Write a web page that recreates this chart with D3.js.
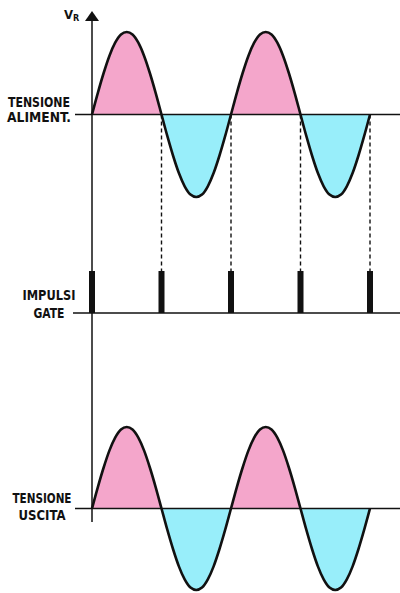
<!DOCTYPE html>
<html><head><meta charset="utf-8">
<script src="https://cdn.jsdelivr.net/npm/d3@7"></script>
<style>
html,body{margin:0;padding:0;background:#fff;}
svg{display:block;}
text{font-family:"Liberation Sans Narrow","DejaVu Sans Condensed","Liberation Sans",Arial,sans-serif;font-weight:bold;fill:#111;}
</style></head>
<body>
<svg id="c" width="400" height="593"></svg>
<script>
// ---- data ----
const phaseDeg = [0,15,30,45,60,75,90,105,120,135,150,165,180,195,210,225,240,255,270,285,300,315,330,345,360,
                  375,390,405,420,435,450,465,480,495,510,525,540,555,570,585,600,615,630,645,660,675,690,705,720];
const supplyVoltage = [0,0.26,0.5,0.71,0.87,0.97,1,0.97,0.87,0.71,0.5,0.26,0,-0.26,-0.5,-0.71,-0.87,-0.97,-1,-0.97,-0.87,-0.71,-0.5,-0.26,0,
                       0.26,0.5,0.71,0.87,0.97,1,0.97,0.87,0.71,0.5,0.26,0,-0.26,-0.5,-0.71,-0.87,-0.97,-1,-0.97,-0.87,-0.71,-0.5,-0.26,0];
const outputVoltage = supplyVoltage.slice();
const gatePhases = [0,180,360,540,720];
const gateLevel = [1,1,1,1,1];
const labelsSupply = ["TENSIONE","ALIMENT."];
const labelsGate = ["IMPULSI","GATE"];
const labelsOutput = ["TENSIONE","USCITA"];
const axisTitle = "V";
const axisSub = "R";

// ---- drawing ----
const svg = d3.select("#c");
const pink = "#f4a6cb", cyan = "#98eefa";
const x = d3.scaleLinear().domain([0,720]).range([92,370]);
const yTop = d3.scaleLinear().domain([-1,1]).range([197,32]);
const yGate = d3.scaleLinear().domain([0,1]).range([313,271]);
const yBot = d3.scaleLinear().domain([-1,1]).range([590,427]);

const defs = svg.append("defs");

function wave(yS, values, id){
  const pts = phaseDeg.map((p,i)=>[p, values[i]]);
  const base = yS(0);
  defs.append("clipPath").attr("id","pos"+id).append("rect")
    .attr("x",0).attr("y",0).attr("width",400).attr("height",base);
  defs.append("clipPath").attr("id","neg"+id).append("rect")
    .attr("x",0).attr("y",base).attr("width",400).attr("height",593-base);
  const area = d3.area().x(d=>x(d[0])).y0(base).y1(d=>yS(d[1])).curve(d3.curveMonotoneX);
  svg.append("path").attr("d",area(pts)).attr("fill",pink).attr("clip-path","url(#pos"+id+")");
  svg.append("path").attr("d",area(pts)).attr("fill",cyan).attr("clip-path","url(#neg"+id+")");
  svg.append("line").attr("x1",75).attr("x2",400).attr("y1",base).attr("y2",base)
    .attr("stroke","#111").attr("stroke-width",1.3);
  const line = d3.line().x(d=>x(d[0])).y(d=>yS(d[1])).curve(d3.curveMonotoneX);
  svg.append("path").attr("d",line(pts)).attr("fill","none").attr("stroke","#111")
    .attr("stroke-width",2.6).attr("stroke-linejoin","round");
}

wave(yTop, supplyVoltage, "t");
wave(yBot, outputVoltage, "b");

// vertical axis
svg.append("line").attr("x1",x(0)).attr("x2",x(0)).attr("y1",16).attr("y2",522)
  .attr("stroke","#111").attr("stroke-width",1.5);
svg.append("path").attr("d",`M${x(0)},11 L${x(0)+7},21 L${x(0)-7},21 Z`).attr("fill","#111");

// gate baseline
svg.append("line").attr("x1",73).attr("x2",400).attr("y1",yGate(0)).attr("y2",yGate(0))
  .attr("stroke","#111").attr("stroke-width",1.3);

// dashed projection lines
svg.selectAll("line.dash").data(gatePhases.slice(1)).enter().append("line")
  .attr("class","dash")
  .attr("x1",d=>x(d)).attr("x2",d=>x(d)).attr("y1",yTop(0)).attr("y2",yGate(1))
  .attr("stroke","#111").attr("stroke-width",1.4).attr("stroke-dasharray","4,3");

// gate pulses
svg.selectAll("rect.pulse").data(gatePhases).enter().append("rect")
  .attr("class","pulse")
  .attr("x",d=>x(d)-3).attr("width",6)
  .attr("y",(d,i)=>yGate(gateLevel[i])).attr("height",(d,i)=>yGate(0)-yGate(gateLevel[i]))
  .attr("fill","#111");

// labels
function label(lines, cx, ys, widths){
  lines.forEach((t,i)=>{
    svg.append("text").attr("x",cx).attr("y",ys[i]).attr("text-anchor","middle")
      .attr("font-size",14).attr("textLength",widths[i]).attr("lengthAdjust","spacingAndGlyphs").text(t);
  });
}
label(labelsSupply, 39, [107,122], [62,64]);
label(labelsGate, 49, [300,318], [53,31]);
label(labelsOutput, 42, [503,520], [59,47]);

const vt = svg.append("text").attr("x",64).attr("y",19).attr("font-size",13);
vt.append("tspan").text(axisTitle);
vt.append("tspan").attr("font-size",9).attr("dy",2).text(axisSub);
</script>
</body></html>
